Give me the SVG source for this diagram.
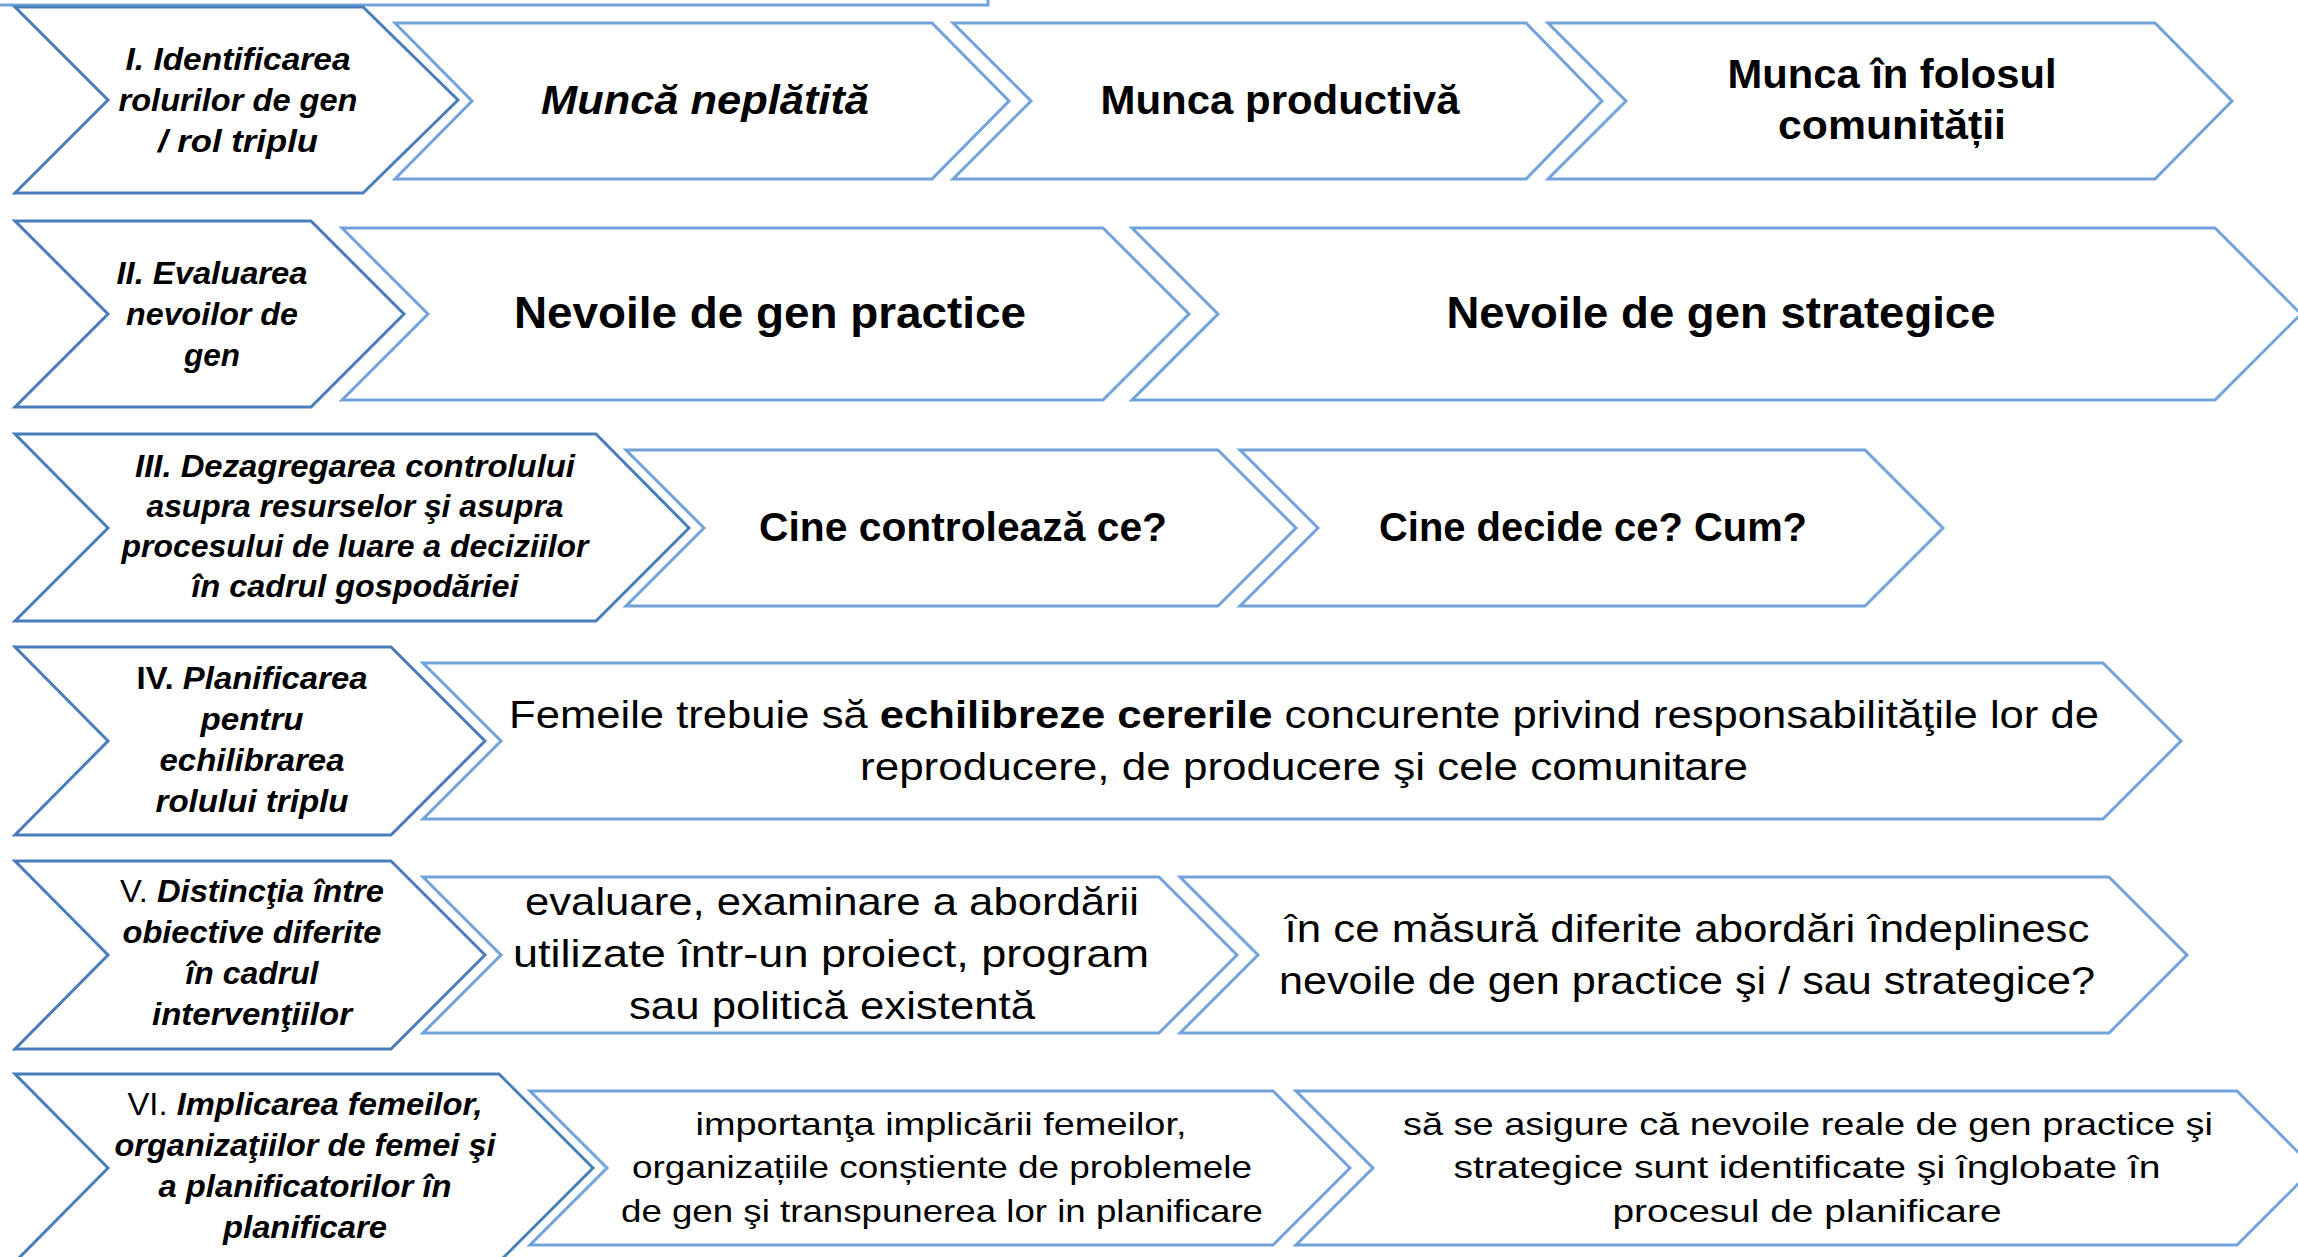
<svg xmlns="http://www.w3.org/2000/svg" width="2298" height="1257" viewBox="0 0 2298 1257">
<style>
.hd{fill:#fff;stroke:#4A7EBB;stroke-width:3;stroke-linejoin:miter}
.bx{fill:#fff;stroke:#71A3DA;stroke-width:3;stroke-linejoin:miter}
text{font-family:"Liberation Sans",Arial,sans-serif;fill:#000;text-anchor:middle}
.h{font-size:31px;font-weight:bold;font-style:italic}
.r{font-weight:normal;font-style:normal}
.rb{font-weight:bold;font-style:normal}
.big{font-size:40px;font-weight:bold}
.bigi{font-size:40px;font-weight:bold;font-style:italic}
.bd{font-size:39px}
.sm{font-size:32px}
</style>
<rect width="2298" height="1257" fill="#fff"/>
<polyline points="0,5 988,5 988,-3" fill="none" stroke="#71A3DA" stroke-width="3"/>

<g id="row1-head">
<polygon class="hd" points="15,7 363,7 458,100 363,193 15,193 108,100"/>
<text class="h" x="238" y="70" textLength="225" lengthAdjust="spacingAndGlyphs">I. Identificarea</text>
<text class="h" x="238" y="111" textLength="239" lengthAdjust="spacingAndGlyphs">rolurilor de gen</text>
<text class="h" x="238" y="152" textLength="160" lengthAdjust="spacingAndGlyphs">/ rol triplu</text>
</g>
<g id="row1-unpaid">
<polygon class="bx" points="395,23 932,23 1009,101 932,179 395,179 472,101"/>
<text class="bigi" x="705" y="114" textLength="328" lengthAdjust="spacingAndGlyphs">Muncă neplătită</text>
</g>
<g id="row1-productive">
<polygon class="bx" points="953,23 1526,23 1602,101 1526,179 953,179 1031,101"/>
<text class="big" x="1280" y="114" textLength="359" lengthAdjust="spacingAndGlyphs">Munca productivă</text>
</g>
<g id="row1-community">
<polygon class="bx" points="1548,23 2155,23 2232,101 2155,179 1548,179 1626,101"/>
<text class="big" x="1892" y="88" textLength="329" lengthAdjust="spacingAndGlyphs">Munca în folosul</text>
<text class="big" x="1892" y="139" textLength="228" lengthAdjust="spacingAndGlyphs">comunității</text>
</g>

<g id="row2-head">
<polygon class="hd" points="15,221 311,221 404,314 311,407 15,407 108,314"/>
<text class="h" x="212" y="284" textLength="191" lengthAdjust="spacingAndGlyphs">II. Evaluarea</text>
<text class="h" x="212" y="325" textLength="172" lengthAdjust="spacingAndGlyphs">nevoilor de</text>
<text class="h" x="212" y="366" textLength="56" lengthAdjust="spacingAndGlyphs">gen</text>
</g>
<g id="row2-practical">
<polygon class="bx" points="342,228 1103,228 1189,314 1103,400 342,400 428,314"/>
<text class="big" style="font-size:44px" x="770" y="328" textLength="512" lengthAdjust="spacingAndGlyphs">Nevoile de gen practice</text>
</g>
<g id="row2-strategic">
<polygon class="bx" points="1132,228 2215,228 2301,314 2215,400 1132,400 1218,314"/>
<text class="big" style="font-size:44px" x="1721" y="328" textLength="549" lengthAdjust="spacingAndGlyphs">Nevoile de gen strategice</text>
</g>

<g id="row3-head">
<polygon class="hd" points="15,434 596,434 689,528 596,621 15,621 108,528"/>
<text class="h" x="355" y="477" textLength="440" lengthAdjust="spacingAndGlyphs">III. Dezagregarea controlului</text>
<text class="h" x="355" y="517" textLength="417" lengthAdjust="spacingAndGlyphs">asupra resurselor şi asupra</text>
<text class="h" x="355" y="557" textLength="467" lengthAdjust="spacingAndGlyphs">procesului de luare a deciziilor</text>
<text class="h" x="355" y="597" textLength="327" lengthAdjust="spacingAndGlyphs">în cadrul gospodăriei</text>
</g>
<g id="row3-control">
<polygon class="bx" points="626,450 1218,450 1296,528 1218,606 626,606 704,528"/>
<text class="big" x="963" y="541" textLength="408" lengthAdjust="spacingAndGlyphs">Cine controlează ce?</text>
</g>
<g id="row3-decide">
<polygon class="bx" points="1240,450 1865,450 1943,528 1865,606 1240,606 1318,528"/>
<text class="big" x="1593" y="541" textLength="428" lengthAdjust="spacingAndGlyphs">Cine decide ce? Cum?</text>
</g>

<g id="row4-head">
<polygon class="hd" points="15,647 391,647 485,741 391,835 15,835 108,741"/>
<text class="h" x="252" y="689" textLength="231" lengthAdjust="spacingAndGlyphs"><tspan class="rb">IV.</tspan> Planificarea</text>
<text class="h" x="252" y="730" textLength="103" lengthAdjust="spacingAndGlyphs">pentru</text>
<text class="h" x="252" y="771" textLength="185" lengthAdjust="spacingAndGlyphs">echilibrarea</text>
<text class="h" x="252" y="812" textLength="193" lengthAdjust="spacingAndGlyphs">rolului triplu</text>
</g>
<g id="row4-balance">
<polygon class="bx" points="423,663 2103,663 2181,741 2103,819 423,819 501,741"/>
<text class="bd" x="1304" y="728" textLength="1590" lengthAdjust="spacingAndGlyphs">Femeile trebuie să <tspan font-weight="bold">echilibreze cererile</tspan> concurente privind responsabilităţile lor de</text>
<text class="bd" x="1304" y="780" textLength="888" lengthAdjust="spacingAndGlyphs">reproducere, de producere şi cele comunitare</text>
</g>

<g id="row5-head">
<polygon class="hd" points="15,861 391,861 485,955 391,1049 15,1049 108,955"/>
<text class="h" x="252" y="902" textLength="264" lengthAdjust="spacingAndGlyphs"><tspan class="r">V.</tspan> Distincţia între</text>
<text class="h" x="252" y="943" textLength="259" lengthAdjust="spacingAndGlyphs">obiective diferite</text>
<text class="h" x="252" y="984" textLength="133" lengthAdjust="spacingAndGlyphs">în cadrul</text>
<text class="h" x="252" y="1025" textLength="200" lengthAdjust="spacingAndGlyphs">intervenţiilor</text>
</g>
<g id="row5-evaluation">
<polygon class="bx" points="423,877 1159,877 1237,955 1159,1033 423,1033 501,955"/>
<text class="bd" x="832" y="915" textLength="614" lengthAdjust="spacingAndGlyphs">evaluare, examinare a abordării</text>
<text class="bd" x="831" y="967" textLength="636" lengthAdjust="spacingAndGlyphs">utilizate într-un proiect, program</text>
<text class="bd" x="832" y="1019" textLength="406" lengthAdjust="spacingAndGlyphs">sau politică existentă</text>
</g>
<g id="row5-measure">
<polygon class="bx" points="1180,877 2109,877 2187,955 2109,1033 1180,1033 1258,955"/>
<text class="bd" x="1687" y="942" textLength="805" lengthAdjust="spacingAndGlyphs">în ce măsură diferite abordări îndeplinesc</text>
<text class="bd" x="1687" y="994" textLength="816" lengthAdjust="spacingAndGlyphs">nevoile de gen practice şi / sau strategice?</text>
</g>

<g id="row6-head">
<polygon class="hd" points="15,1074 499,1074 593,1168 499,1262 15,1262 108,1168"/>
<text class="h" x="305" y="1115" textLength="355" lengthAdjust="spacingAndGlyphs"><tspan class="r">VI.</tspan> Implicarea femeilor,</text>
<text class="h" x="305" y="1156" textLength="381" lengthAdjust="spacingAndGlyphs">organizaţiilor de femei şi</text>
<text class="h" x="305" y="1197" textLength="293" lengthAdjust="spacingAndGlyphs">a planificatorilor în</text>
<text class="h" x="305" y="1238" textLength="164" lengthAdjust="spacingAndGlyphs">planificare</text>
</g>
<g id="row6-importance">
<polygon class="bx" points="530,1091 1273,1091 1350,1168 1273,1245 530,1245 607,1168"/>
<text class="sm" x="941" y="1135" textLength="491" lengthAdjust="spacingAndGlyphs">importanţa implicării femeilor,</text>
<text class="sm" x="942" y="1178" textLength="620" lengthAdjust="spacingAndGlyphs">organizațiile conștiente de problemele</text>
<text class="sm" x="942" y="1222" textLength="642" lengthAdjust="spacingAndGlyphs">de gen şi transpunerea lor in planificare</text>
</g>
<g id="row6-ensure">
<polygon class="bx" points="1296,1091 2237,1091 2314,1168 2237,1245 1296,1245 1373,1168"/>
<text class="sm" x="1808" y="1135" textLength="810" lengthAdjust="spacingAndGlyphs">să se asigure că nevoile reale de gen practice şi</text>
<text class="sm" x="1807" y="1178" textLength="707" lengthAdjust="spacingAndGlyphs">strategice sunt identificate şi înglobate în</text>
<text class="sm" x="1807" y="1222" textLength="389" lengthAdjust="spacingAndGlyphs">procesul de planificare</text>
</g>
</svg>
